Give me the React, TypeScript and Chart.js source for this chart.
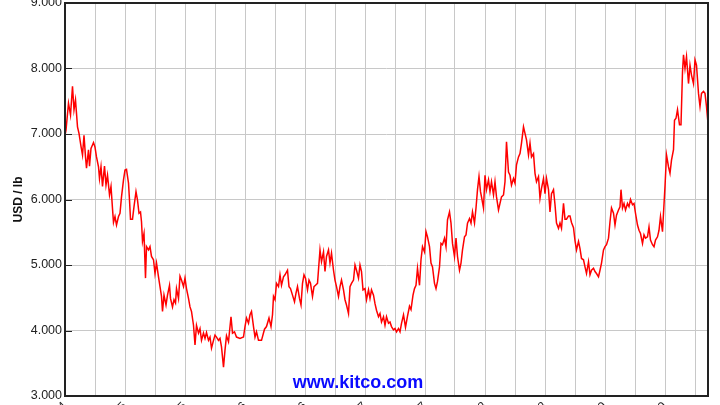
import React, { useEffect, useRef } from 'react';
import { Chart, registerables } from 'chart.js';
Chart.register(...registerables);

// Trading-day index (x) and nickel price in USD/lb (y)
const tradingDays = [
  0, 2, 7, 11, 15, 18, 21, 25, 28, 32, 35, 38, 41, 43, 47, 49, 52, 57, 60, 63, 67, 69, 72, 75, 79, 82, 85, 89, 92, 95, 97,
  100, 103, 107, 110, 113, 117, 120, 123, 127, 129, 131, 135, 138, 142, 145, 148, 151, 153, 155, 158, 161, 163, 167, 170,
  173, 177, 180, 183, 187, 190, 193, 195, 198, 202, 205, 209, 211, 215, 218, 221, 223, 227, 230, 233, 237, 240, 243, 247,
  250, 253, 257, 260, 263, 267, 270, 273, 277, 280, 283, 287, 290, 293, 297, 300, 303, 307, 310, 313, 317, 320, 323, 327,
  332, 335, 339, 343, 350, 357, 360, 363, 367, 370, 373, 377, 380, 383, 387, 393, 399, 403, 408, 412, 415, 417, 420, 423,
  427, 430, 433, 437, 440, 445, 448, 451, 455, 459, 462, 465, 469, 472, 475, 478, 481, 485, 488, 491, 495, 498, 501, 505,
  508, 510, 513, 517, 520, 523, 527, 530, 533, 537, 540, 543, 547, 550, 553, 557, 560, 563, 567, 570, 573, 577, 580, 583,
  587, 590, 593, 596, 600, 603, 607, 610, 613, 617, 620, 623, 627, 630, 633, 637, 640, 643, 647, 650, 653, 657, 660, 663,
  667, 670, 673, 677, 681, 685, 689, 692, 696, 699, 702, 705, 709, 712, 715, 719, 722, 725, 729, 732, 735, 739, 742, 745,
  749, 752, 755, 759, 762, 765, 769, 772, 775, 779, 782, 785, 789, 792, 795, 799, 802, 805, 809, 812, 815, 819, 822, 825,
  828, 831, 833, 837, 840, 843, 847, 850, 853, 857, 860, 863, 867, 870, 873, 877, 880, 883, 887, 890, 893, 897, 900, 903,
  907, 910, 913, 917, 920, 923, 927, 930, 933, 937, 940, 943, 947, 950, 953, 957, 960, 963, 967, 970, 973, 977, 980, 983,
  987, 990, 993, 997, 1000, 1003, 1007, 1010, 1013, 1017, 1020, 1023, 1027, 1030, 1033, 1037, 1040, 1043, 1047, 1050,
  1053, 1057, 1060, 1063, 1067, 1070, 1073, 1077, 1080, 1083, 1087, 1090, 1093, 1097, 1100, 1103, 1107, 1110, 1112, 1115,
  1118, 1121, 1125, 1128, 1131, 1135, 1138, 1141, 1145, 1148, 1151, 1155, 1158, 1161, 1165, 1168, 1171, 1175, 1178, 1181,
  1185, 1188, 1191, 1195, 1197, 1200, 1203, 1207, 1210, 1213, 1217, 1219, 1222, 1225, 1229, 1232, 1235, 1237, 1240, 1243,
  1247, 1250, 1253, 1257, 1260, 1263, 1267, 1270, 1273, 1277, 1280, 1283, 1286,
];

const priceUsdLb = [
  6.98, 7.06, 7.47, 7.29, 7.73, 7.37, 7.52, 7.11, 7.01, 6.81, 6.68, 6.98, 6.65, 6.48, 6.76, 6.51, 6.78, 6.87, 6.80, 6.65,
  6.50, 6.32, 6.50, 6.20, 6.51, 6.22, 6.37, 6.07, 6.20, 5.86, 5.65,
  5.74, 5.61, 5.74, 5.79, 6.04, 6.30, 6.45, 6.46, 6.25, 5.99, 5.70, 5.70, 5.89, 6.12, 5.99, 5.79, 5.81, 5.66, 5.36, 5.48,
  4.80, 5.28, 5.23, 5.28,
  5.13, 5.08, 4.87, 5.03, 4.82, 4.67, 4.52, 4.29, 4.54, 4.39, 4.54, 4.69, 4.49, 4.36, 4.47, 4.42, 4.64, 4.49, 4.83, 4.77,
  4.67, 4.80, 4.64, 4.49,
  4.36, 4.29, 4.08, 3.78, 4.08, 3.96, 4.03, 3.85, 3.96, 3.88, 3.97, 3.85, 3.90, 3.73, 3.85, 3.93, 3.90, 3.85, 3.88, 3.75,
  3.44, 3.70, 3.92, 3.83,
  4.21, 3.96, 3.98, 3.90, 3.88, 3.90, 4.06, 4.19, 4.11, 4.24, 4.29, 4.06, 3.90, 3.98, 3.85, 3.85, 4.02, 4.06, 4.19, 4.06,
  4.24, 4.52, 4.47, 4.72,
  4.67, 4.85, 4.69, 4.82, 4.85, 4.92, 4.67, 4.64, 4.54, 4.44, 4.57, 4.67, 4.49, 4.39, 4.72, 4.85, 4.80, 4.62, 4.77, 4.72,
  4.52, 4.67, 4.69, 4.72,
  5.03, 5.23, 5.05, 5.20, 4.90, 5.13, 5.23, 5.03, 5.18, 4.92, 4.77, 4.67, 4.52, 4.67, 4.77, 4.62, 4.47, 4.39, 4.26, 4.67,
  4.72, 4.77, 5.00, 4.92,
  4.80, 5.00, 4.90, 4.62, 4.64, 4.47, 4.62, 4.49, 4.62, 4.54, 4.41, 4.31, 4.21, 4.26, 4.13, 4.21, 4.08, 4.21, 4.11, 4.13,
  4.06, 4.01, 4.03, 3.98,
  4.03, 3.98, 4.11, 4.24, 4.05, 4.22, 4.37, 4.32, 4.54, 4.64, 4.69, 4.95, 4.69, 5.08, 5.28, 5.20, 5.51, 5.43, 5.28, 5.03,
  4.97, 4.72, 4.64, 4.75,
  4.97, 5.33, 5.31, 5.41, 5.28, 5.69, 5.81, 5.64, 5.33, 5.13, 5.41, 5.13, 4.92, 5.03, 5.23, 5.43, 5.46, 5.64, 5.71, 5.64,
  5.81, 5.64, 5.87, 6.15,
  6.35, 6.12, 6.04, 5.87, 6.37, 6.15, 6.30, 6.12, 6.27, 6.07, 6.27, 6.04, 5.84, 5.94, 6.04, 6.07, 6.27, 6.88, 6.42, 6.37,
  6.22, 6.32, 6.25, 6.53,
  6.65, 6.70, 6.86, 7.11, 7.01, 6.91, 6.68, 6.86, 6.65, 6.70, 6.40, 6.27, 6.35, 6.02, 6.17, 6.32, 6.09, 6.32, 6.15, 5.81,
  6.09, 6.15, 5.92, 5.64,
  5.56, 5.64, 5.56, 5.94, 5.70, 5.70, 5.75, 5.75, 5.65, 5.57, 5.37, 5.23, 5.36, 5.25, 5.10, 5.08, 4.97, 4.87, 5.05, 4.85,
  4.92, 4.95, 4.90, 4.87, 4.82, 4.92, 5.03, 5.23, 5.28, 5.31, 5.41, 5.66, 5.87, 5.79, 5.61, 5.76, 5.84, 5.89, 6.15, 5.87,
  5.94, 5.84, 5.94, 5.89, 6.00, 5.92, 5.94, 5.79, 5.61, 5.53, 5.48, 5.33, 5.46, 5.41, 5.43, 5.58, 5.38, 5.31, 5.28, 5.38,
  5.43, 5.53, 5.74, 5.51, 5.79, 6.20, 6.68, 6.50, 6.40, 6.60, 6.76, 7.21, 7.24, 7.37, 7.14, 7.14, 7.95, 8.21, 8.00, 8.18,
  7.77, 8.05, 7.90, 7.77, 8.13, 8.05, 7.62, 7.42, 7.62, 7.65, 7.62, 7.42, 7.16,
];

const xTickLabels = [
  'Nov 2014', 'May 2015', 'Oct 2015', 'Apr 2016', 'Oct 2016', 'Mar 2017',
  'Sep 2017', 'Mar 2018', 'Aug 2018', 'Feb 2019', 'Aug 2019',
];
const yAxisTitle = 'USD / lb';
const watermark = 'www.kitco.com';

const FONT = "'Liberation Sans', Arial, sans-serif";

export default function App() {
  const ref = useRef<HTMLCanvasElement | null>(null);

  useEffect(() => {
    if (!ref.current) return;
    const points = tradingDays.map((d, i) => ({ x: d, y: priceUsdLb[i] }));

    const framePlugin = {
      id: 'frame',
      beforeDatasetsDraw(chart: any) {
        const { ctx, chartArea } = chart;
        ctx.save();
        ctx.font = `bold 18px ${FONT}`;
        ctx.fillStyle = '#0a0aff';
        ctx.textAlign = 'center';
        ctx.textBaseline = 'alphabetic';
        ctx.fillText(watermark, chart.width / 2 - 2, chartArea.bottom - 8);
        ctx.restore();
      },
      afterDraw(chart: any) {
        const { ctx, chartArea } = chart;
        const y = chart.scales.y;
        ctx.save();
        ctx.strokeStyle = '#222';
        ctx.lineWidth = 1;
        y.ticks.forEach((t: any) => {
          const py = Math.round(y.getPixelForValue(t.value)) + 0.5;
          ctx.beginPath();
          ctx.moveTo(chartArea.left, py);
          ctx.lineTo(chartArea.left + 7, py);
          ctx.stroke();
        });
        ctx.lineWidth = 2;
        ctx.strokeRect(chartArea.left, chartArea.top, chartArea.right - chartArea.left, chartArea.bottom - chartArea.top);
        ctx.restore();
      },
    };

    const chart = new Chart(ref.current, {
      type: 'line',
      data: {
        datasets: [
          {
            data: points,
            borderColor: '#ff0000',
            borderWidth: 1.5,
            pointRadius: 0,
            tension: 0,
            fill: false,
          },
        ],
      },
      options: {
        animation: false,
        responsive: false,
        parsing: true,
        layout: { padding: { top: 23, right: 12, left: 0, bottom: 0 } },
        plugins: { legend: { display: false }, tooltip: { enabled: false } },
        scales: {
          x: {
            type: 'linear',
            min: 0,
            max: 1286,
            afterFit: (s: any) => {
              s.height = 54;
            },
            grid: { color: '#c8c8c8', lineWidth: 1, drawTicks: false },
            border: { display: false },
            ticks: {
              stepSize: 60,
              includeBounds: false,
              autoSkip: false,
              minRotation: 45,
              maxRotation: 45,
              padding: 3,
              color: '#222',
              font: { family: FONT, size: 12 },
              callback: (v: any) => (Number(v) % 120 === 0 ? xTickLabels[Number(v) / 120] ?? '' : ''),
            },
          },
          y: {
            min: 3,
            max: 9,
            afterFit: (s: any) => {
              s.width = 65;
            },
            grid: { color: '#c8c8c8', lineWidth: 1, drawTicks: false },
            border: { display: false },
            ticks: {
              stepSize: 1,
              padding: 3,
              color: '#222',
              font: { family: FONT, size: 12.5 },
              callback: (v: any) => Number(v).toFixed(3),
            },
            title: {
              display: true,
              text: yAxisTitle,
              color: '#111',
              font: { family: FONT, size: 12, weight: 'bold' },
              padding: { top: 11, bottom: 0 },
            },
          },
        },
      },
      plugins: [framePlugin],
    });
    return () => chart.destroy();
  }, []);

  return (
    <div
      style={{
        position: 'fixed',
        left: 0,
        top: 0,
        width: 720,
        height: 405,
        overflow: 'hidden',
        background: '#fff',
      }}
    >
      <canvas
        ref={ref}
        width={720}
        height={470}
        style={{ position: 'absolute', left: 0, top: -20, width: 720, height: 470 }}
      />
    </div>
  );
}
